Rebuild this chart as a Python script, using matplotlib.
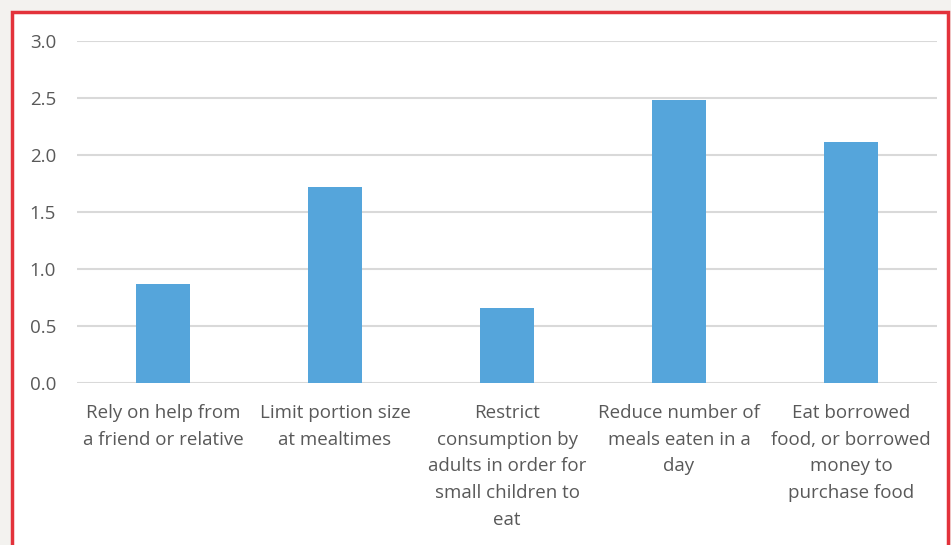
import matplotlib.pyplot as plt
from matplotlib.patches import Rectangle

# donnees
categories = [
    "Rely on help from\na friend or relative",
    "Limit portion size\nat mealtimes",
    "Restrict\nconsumption by\nadults in order for\nsmall children to\neat",
    "Reduce number of\nmeals eaten in a\nday",
    "Eat borrowed\nfood, or borrowed\nmoney to\npurchase food",
]
values = [0.87, 1.72, 0.66, 2.48, 2.11]
yticks = [0.0, 0.5, 1.0, 1.5, 2.0, 2.5, 3.0]

W, H = 951, 545
fig = plt.figure(figsize=(W / 100, H / 100), dpi=100, facecolor="#f3f2ef")

# cadre blanc avec bordure rouge
fig.patches.append(Rectangle((11.5 / W, -0.05), (948 - 11.5) / W, (H - 12) / H + 0.05,
                             transform=fig.transFigure, facecolor="white",
                             edgecolor="#e3323b", linewidth=2.5, zorder=-5))

ax = fig.add_axes([77 / W, 1 - 383 / H, (937 - 77) / W, (383 - 41) / H])
ax.set_facecolor("none")

x = range(len(categories))
ax.bar(x, values, width=0.315, color="#55a5db", zorder=3)

ax.set_xlim(-0.5, len(categories) - 0.5)
ax.set_ylim(0, 3.0)
ax.set_yticks(yticks)
ax.set_yticklabels([f"{v:.1f}" for v in yticks])
ax.set_xticks(list(x))
ax.set_xticklabels(categories, linespacing=1.62)

for s in ax.spines.values():
    s.set_visible(False)
ax.grid(axis="y", color="#d9d9d9", linewidth=1.5, zorder=0)
ax.tick_params(axis="both", length=0, labelsize=13.5, labelcolor="#595959")
ax.tick_params(axis="y", pad=15)
ax.tick_params(axis="x", pad=15)
for t in ax.get_xticklabels() + ax.get_yticklabels():
    t.set_fontfamily("Open Sans")

fig.savefig("out.png", dpi=100, facecolor=fig.get_facecolor())
